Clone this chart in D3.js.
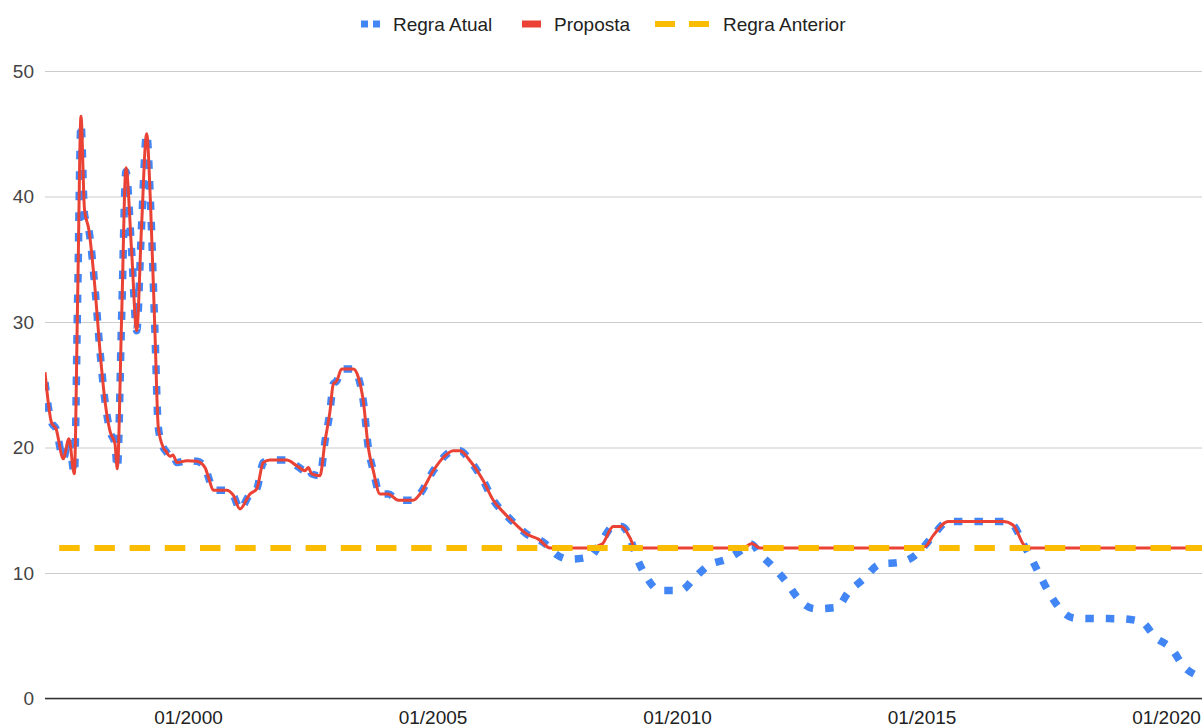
<!DOCTYPE html>
<html>
<head>
<meta charset="utf-8">
<script src="https://cdnjs.cloudflare.com/ajax/libs/d3/7.8.5/d3.min.js"></script>
<style>
  body { margin: 0; background: #fff; }
  svg { display: block; font-family: Arial, "Liberation Sans", sans-serif; }
</style>
</head>
<body>
<div id="chart"></div>
<script>
// datas em anos decimais
var anos = [
  1997.076, 1997.209, 1997.301, 1997.450, 1997.566, 1997.675, 1997.744, 1997.812, 1997.883, 1997.975,
  1998.098, 1998.200, 1998.303, 1998.405, 1998.507, 1998.554, 1998.644, 1998.732, 1998.845, 1998.951,
  1999.049, 1999.155, 1999.233, 1999.325, 1999.393, 1999.495, 1999.550, 1999.632, 1999.693, 1999.775,
  1999.980, 2000.184, 2000.348, 2000.429, 2000.517, 2000.791, 2000.926, 2001.063, 2001.268, 2001.405,
  2001.540, 2001.677, 2002.018, 2002.223, 2002.393, 2002.460, 2002.530, 2002.699, 2002.802, 2002.904,
  2002.971, 2003.041, 2003.143, 2003.380, 2003.483, 2003.585, 2003.687, 2003.789, 2003.926, 2004.096,
  2004.301, 2004.607, 2004.744, 2005.016, 2005.221, 2005.425, 2005.562, 2005.767, 2006.039, 2006.243,
  2006.448, 2006.722, 2006.926, 2007.164, 2007.403, 2007.526, 2007.812, 2008.221, 2008.466, 2008.697,
  2008.869, 2009.039, 2009.141, 2009.380, 2009.652, 2010.061, 2010.368, 2010.640, 2011.016, 2011.356,
  2011.528, 2011.697, 2011.937, 2012.243, 2012.481, 2012.822, 2013.266, 2013.503, 2013.810, 2014.151,
  2014.560, 2014.902, 2015.072, 2015.241, 2015.548, 2016.673, 2016.877, 2017.082, 2017.157, 2017.254,
  2017.423, 2017.628, 2017.867, 2018.139, 2019.094, 2019.503, 2019.775, 2020.117, 2020.354, 2020.661,
  2020.736
];

var regraAtual = [
  25.2, 22.0, 21.5, 19.1, 20.7, 17.9, 32.0, 45.8, 38.6, 37.3,
  32.7, 27.7, 23.7, 21.3, 20.3, 18.3, 30.5, 42.0, 35.8, 29.3,
  37.5, 45.0, 39.5, 29.1, 21.6, 20.0, 19.7, 19.3, 19.4, 18.8,
  18.95, 18.9, 18.4, 17.5, 16.6, 16.6, 16.2, 15.1, 16.3, 16.7,
  18.8, 19.0, 19.0, 18.55, 18.15, 18.4, 17.9, 17.75, 20.5, 22.9,
  25.05, 25.3, 26.25, 26.25, 25.6, 23.7, 20.0, 18.15, 16.3, 16.3,
  15.8, 15.8, 16.3, 18.15, 19.2, 19.75, 19.75, 18.95, 17.35, 15.8,
  14.85, 13.8, 13.1, 12.7, 12.0, 11.5, 11.1, 11.3, 12.6, 13.7,
  13.7, 12.8, 11.6, 9.65, 8.6, 8.6, 9.65, 10.6, 11.1, 11.9,
  12.3, 11.5, 10.6, 9.25, 7.95, 7.15, 7.25, 8.45, 9.5, 10.7,
  10.85, 11.5, 12.2, 13.0, 14.1, 14.1, 13.8, 12.3, 11.8, 11.1,
  9.8, 8.3, 7.0, 6.4, 6.35, 6.1, 4.9, 3.95, 2.6, 1.8,
  1.7
];

var proposta = [
  26.0, 22.0, 21.5, 19.1, 20.7, 17.9, 32.0, 46.4, 39.0, 37.3,
  32.7, 27.7, 23.7, 21.3, 20.3, 18.3, 30.5, 42.3, 35.8, 29.3,
  37.5, 45.0, 39.5, 29.1, 21.6, 20.0, 19.7, 19.3, 19.4, 18.8,
  18.95, 18.9, 18.4, 17.5, 16.6, 16.6, 16.2, 15.1, 16.3, 16.7,
  18.8, 19.0, 19.0, 18.55, 18.15, 18.4, 17.9, 17.75, 20.5, 22.9,
  25.05, 25.3, 26.25, 26.25, 25.6, 23.7, 20.0, 18.15, 16.3, 16.3,
  15.8, 15.8, 16.3, 18.15, 19.2, 19.75, 19.75, 18.95, 17.35, 15.8,
  14.85, 13.8, 13.1, 12.7, 12.0, 12.0, 12.0, 12.0, 12.3, 13.7,
  13.7, 12.8, 12.0, 12.0, 12.0, 12.0, 12.0, 12.0, 12.0, 12.0,
  12.35, 12.0, 12.0, 12.0, 12.0, 12.0, 12.0, 12.0, 12.0, 12.0,
  12.0, 12.0, 12.1, 13.0, 14.1, 14.1, 13.8, 12.3, 12.0, 12.0,
  12.0, 12.0, 12.0, 12.0, 12.0, 12.0, 12.0, 12.0, 12.0, 12.0,
  12.0
];

// regra anterior: taxa fixa
var anosAnterior = [1997.076, 2020.736];
var regraAnterior = [12, 12];

var ticksX = [2000, 2005, 2010, 2015, 2020];
var rotulosX = ["01/2000", "01/2005", "01/2010", "01/2015", "01/2020"];
var ticksY = [0, 10, 20, 30, 40, 50];

var svgWidth = 1202, svgHeight = 726;
var plot = { left: 45, right: 1202, top: 71, bottom: 698.5 };

var svg = d3.select("#chart").append("svg")
  .attr("width", svgWidth)
  .attr("height", svgHeight);

var xScale = d3.scaleLinear()
  .domain([anos[0], anos[anos.length - 1]])
  .range([plot.left, plot.right]);

var yScale = d3.scaleLinear()
  .domain([0, 50])
  .range([plot.bottom, plot.top]);

svg.append("clipPath").attr("id", "clip")
  .append("rect")
  .attr("x", plot.left).attr("y", 0)
  .attr("width", plot.right - plot.left).attr("height", plot.bottom + 4);

// grade
var yAxis = d3.axisLeft(yScale)
  .tickValues(ticksY)
  .tickSize(-(plot.right - plot.left))
  .tickPadding(11)
  .tickFormat(d3.format("d"));

var gy = svg.append("g")
  .attr("transform", `translate(${plot.left},0)`)
  .call(yAxis);
gy.select(".domain").remove();
gy.selectAll(".tick line").attr("stroke", "#cccccc").attr("stroke-width", 1);
gy.selectAll(".tick text")
  .attr("fill", "#444")
  .style("font-size", "19px")
  .style("font-family", "Arial, 'Liberation Sans', sans-serif");

var xAxis = d3.axisBottom(xScale)
  .tickValues(ticksX)
  .tickSize(0)
  .tickPadding(12)
  .tickFormat(function(d, i) { return rotulosX[i]; });

var gx = svg.append("g")
  .attr("transform", `translate(0,${yScale(0)})`)
  .call(xAxis);
gx.select(".domain").remove();
gx.selectAll(".tick text")
  .attr("fill", "#222")
  .attr("dy", "0.71em")
  .style("font-size", "19px")
  .style("font-family", "Arial, 'Liberation Sans', sans-serif");

// linha de base
svg.append("line")
  .attr("x1", plot.left).attr("x2", plot.right)
  .attr("y1", yScale(0)).attr("y2", yScale(0))
  .attr("stroke", "#333").attr("stroke-width", 1.5);

var rows = anos.map(function(a, i) {
  return { ano: a, atual: regraAtual[i], proposta: proposta[i] };
});
var rowsAnterior = anosAnterior.map(function(a, i) {
  return { ano: a, valor: regraAnterior[i] };
});

var lines = svg.append("g").attr("clip-path", "url(#clip)");

var lineAtual = d3.line()
  .x(function(d) { return xScale(d.ano); })
  .y(function(d) { return yScale(d.atual); })
  .curve(d3.curveMonotoneX);

var lineProposta = d3.line()
  .x(function(d) { return xScale(d.ano); })
  .y(function(d) { return yScale(d.proposta); })
  .curve(d3.curveMonotoneX);

var lineAnterior = d3.line()
  .x(function(d) { return xScale(d.ano); })
  .y(function(d) { return yScale(d.valor); });

lines.append("path")
  .datum(rows)
  .attr("d", lineAtual)
  .attr("fill", "none")
  .attr("stroke", "#4285f4")
  .attr("stroke-width", 7.5)
  .attr("stroke-dasharray", "8.5,12");

lines.append("path")
  .datum(rows)
  .attr("d", lineProposta)
  .attr("fill", "none")
  .attr("stroke", "#ea4335")
  .attr("stroke-width", 3)
  .attr("stroke-linejoin", "round");

lines.append("path")
  .datum(rowsAnterior)
  .attr("d", lineAnterior)
  .attr("fill", "none")
  .attr("stroke", "#fbbc04")
  .attr("stroke-width", 6)
  .attr("stroke-dasharray", "20.5,14.7")
  .attr("stroke-dashoffset", 21);

// legenda
var legend = svg.append("g").attr("class", "legend");
var ly = 24;

// Regra Atual
legend.append("rect").attr("x", 361).attr("y", ly - 3.5).attr("width", 7).attr("height", 7).attr("fill", "#4285f4");
legend.append("rect").attr("x", 373).attr("y", ly - 3.5).attr("width", 7).attr("height", 7).attr("fill", "#4285f4");
legend.append("text").attr("x", 393).attr("y", ly).attr("dy", "0.35em")
  .attr("fill", "#222").style("font-size", "19px").text("Regra Atual");

// Proposta
legend.append("rect").attr("x", 522).attr("y", ly - 3.5).attr("width", 19).attr("height", 7).attr("fill", "#ea4335");
legend.append("text").attr("x", 554).attr("y", ly).attr("dy", "0.35em")
  .attr("fill", "#222").style("font-size", "19px").text("Proposta");

// Regra Anterior
legend.append("rect").attr("x", 655).attr("y", ly - 3).attr("width", 20).attr("height", 6).attr("fill", "#fbbc04");
legend.append("rect").attr("x", 689).attr("y", ly - 3).attr("width", 20).attr("height", 6).attr("fill", "#fbbc04");
legend.append("text").attr("x", 723).attr("y", ly).attr("dy", "0.35em")
  .attr("fill", "#222").style("font-size", "19px").text("Regra Anterior");
</script>
</body>
</html>
